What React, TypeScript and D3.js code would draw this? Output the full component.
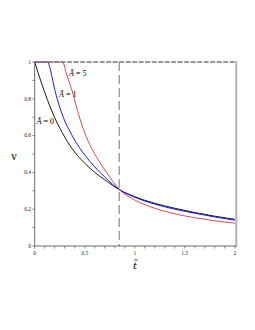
import React from "react";
import * as d3 from "d3";

const blackT = [0, 0.05, 0.1, 0.15, 0.2, 0.25, 0.3, 0.4, 0.5, 0.6, 0.7, 0.85, 1.0, 1.2, 1.4, 1.6, 1.8, 2.0];
const blackV = [1, 0.915, 0.835, 0.762, 0.697, 0.642, 0.592, 0.51, 0.45, 0.4, 0.36, 0.305, 0.268, 0.232, 0.205, 0.182, 0.162, 0.145];

const blueT = [0, 0.12, 0.14, 0.16, 0.2, 0.25, 0.3, 0.35, 0.4, 0.5, 0.6, 0.7, 0.85, 1.0, 1.2, 1.4, 1.6, 1.8, 2.0];
const blueV = [1, 1, 0.99, 0.95, 0.85, 0.755, 0.68, 0.625, 0.575, 0.495, 0.43, 0.375, 0.305, 0.265, 0.228, 0.2, 0.178, 0.158, 0.14];

const redT = [0, 0.27, 0.29, 0.31, 0.34, 0.37, 0.41, 0.45, 0.5, 0.57, 0.65, 0.75, 0.85, 1.0, 1.2, 1.4, 1.6, 1.8, 2.0];
const redV = [1, 1, 0.99, 0.95, 0.9, 0.85, 0.77, 0.695, 0.615, 0.53, 0.455, 0.375, 0.305, 0.25, 0.205, 0.175, 0.154, 0.137, 0.124];

const xTickLabels = ["0", "0.5", "1", "1.5", "2"];
const xTickValues = [0, 0.5, 1, 1.5, 2];
const yTickLabels = ["0", "0.2", "0.4", "0.6", "0.8", "1"];
const yTickValues = [0, 0.2, 0.4, 0.6, 0.8, 1];
const minorX = d3.range(0, 21).map((i) => i / 10);
const minorY = d3.range(0, 11).map((i) => i / 10);

const curveLabels = [
  { text: "0", t: 0.018, v: 0.663 },
  { text: "1", t: 0.243, v: 0.81 },
  { text: "5", t: 0.343, v: 0.924 },
];
const criticalT = [0.845];

const FONT = "'Liberation Serif', 'DejaVu Serif', serif";

export default function App() {
  const x = d3.scaleLinear().domain([0, 2]).range([34.7, 234.8]);
  const y = d3.scaleLinear().domain([0, 1]).range([246, 62]);
  const line = d3
    .line<[number, number]>()
    .x((d) => x(d[0]))
    .y((d) => y(d[1]))
    .curve(d3.curveMonotoneX);
  const pts = (ts: number[], vs: number[]) => ts.map((t, i) => [t, vs[i]] as [number, number]);

  return (
    <svg width={255} height={330} style={{ position: "absolute", left: 0, top: 0 }}>
      <rect x={0} y={0} width={255} height={330} fill="#fff" />
      {/* right border */}
      <line x1={236.3} x2={236.3} y1={61} y2={247} stroke="#b4b4b4" strokeWidth={2} />
      {/* critical vertical dashed */}
      {criticalT.map((c, i) => (
        <line key={i} x1={x(c)} x2={x(c)} y1={y(1)} y2={y(0)} stroke="#999" strokeWidth={1.4} strokeDasharray="9,4" />
      ))}
      {/* curves */}
      <path d={line(pts(blackT, blackV)) || ""} fill="none" stroke="#000" strokeWidth={0.9} />
      <path d={line(pts(blueT, blueV)) || ""} fill="none" stroke="#0000ff" strokeWidth={0.9} />
      <path d={line(pts(redT, redV)) || ""} fill="none" stroke="#c83c3c" strokeWidth={0.9} />
      {/* top dashed line at v=1 */}
      <line x1={x(0)} x2={235.5} y1={y(1)} y2={y(1)} stroke="#777" strokeWidth={1.4} strokeDasharray="5,1.5" />
      {/* axes */}
      <line x1={x(0)} x2={236} y1={y(0)} y2={y(0)} stroke="#444" strokeWidth={0.8} />
      <line x1={x(0)} x2={x(0)} y1={y(0)} y2={y(1)} stroke="#444" strokeWidth={0.8} />
      {minorX.map((t, i) => (
        <line key={"mx" + i} x1={x(t)} x2={x(t)} y1={y(0)} y2={y(0) + 2.5} stroke="#444" strokeWidth={0.6} />
      ))}
      {minorY.map((v, i) => (
        <line key={"my" + i} x1={x(0) - 2.5} x2={x(0)} y1={y(v)} y2={y(v)} stroke="#444" strokeWidth={0.6} />
      ))}
      {xTickValues.map((t, i) => (
        <text key={"xl" + i} x={x(t)} y={255} fontSize={5.5} fontFamily={FONT} textAnchor="middle" fill="#222">
          {xTickLabels[i]}
        </text>
      ))}
      {yTickValues.map((v, i) => (
        <text key={"yl" + i} x={31} y={y(v) + 1.8} fontSize={5.5} fontFamily={FONT} textAnchor="end" fill="#222">
          {yTickLabels[i]}
        </text>
      ))}
      {/* axis titles */}
      <text x={14} y={160} fontSize={12} fontFamily={FONT} textAnchor="middle" fill="#000">ν</text>
      <text x={135} y={269} fontSize={10} fontFamily="'DejaVu Serif', serif" fontStyle="italic" textAnchor="middle" fill="#000">t̃</text>
      {/* curve labels */}
      {curveLabels.map((c, i) => (
        <text key={"cl" + i} x={x(c.t)} y={y(c.v)} fontSize={8} fontFamily={FONT} fill="#000">
          <tspan fontStyle="italic">Ã</tspan>
          <tspan> = {c.text}</tspan>
        </text>
      ))}
    </svg>
  );
}
